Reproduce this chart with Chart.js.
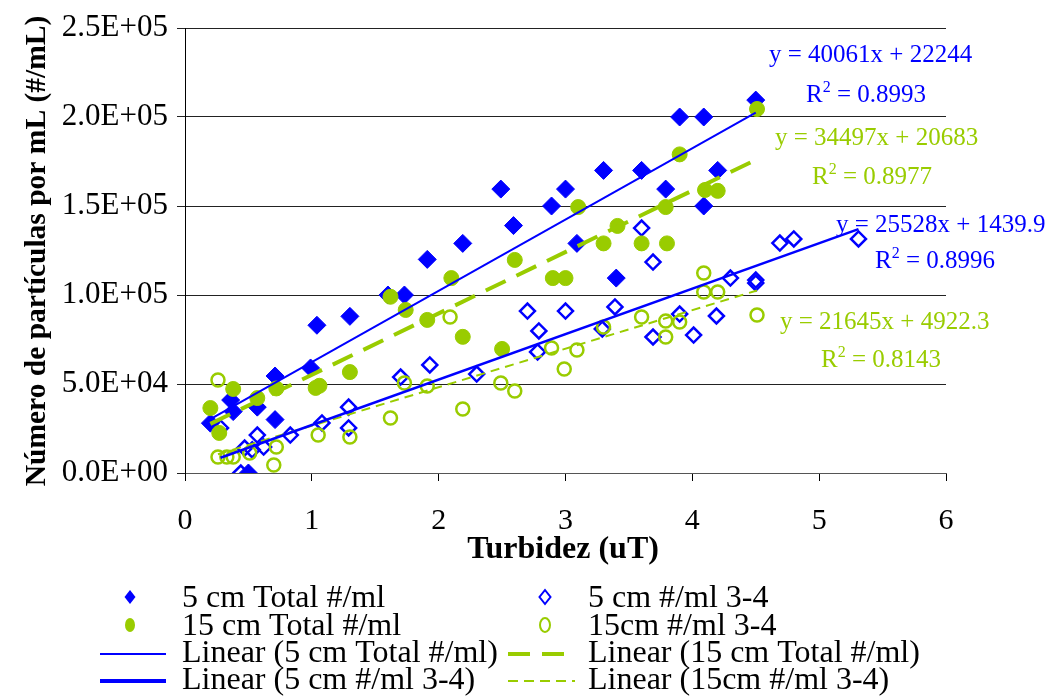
<!DOCTYPE html>
<html>
<head>
<meta charset="utf-8">
<script src="https://cdn.jsdelivr.net/npm/chart.js@4.4.1/dist/chart.umd.min.js"></script>
<style>
  body { margin: 0; background: #fff; }
  #grafico { display: block; }
</style>
</head>
<body>
<canvas id="grafico" width="1045" height="696"></canvas>
<script>
const azul = "#0000FF";
const verde = "#99CC00";
const fonte = '"Liberation Serif", "Times New Roman", serif';

// 5 cm Total #/ml
const x5Total = [0.2, 0.36, 0.38, 0.5, 0.57, 0.71, 0.71, 0.99, 1.04, 1.3, 1.6, 1.73, 1.91, 2.19, 2.49, 2.59, 2.89, 3.0, 3.09, 3.3, 3.4, 3.6, 3.79, 3.9, 4.09, 4.09, 4.2, 4.5];
const y5Total = [28000, 41000, 34500, 0, 37000, 54500, 30000, 59000, 83000, 88000, 100000, 100000, 120000, 129000, 159500, 139000, 150000, 159500, 129000, 170000, 109500, 170000, 159500, 200000, 200000, 150000, 170000, 209500];

// 5 cm #/ml 3-4
const x5Faixa = [0.28, 0.44, 0.47, 0.53, 0.57, 0.62, 0.83, 1.08, 1.29, 1.29, 1.7, 1.93, 2.3, 2.7, 2.78, 2.79, 3.0, 3.29, 3.39, 3.6, 3.69, 3.69, 3.9, 4.01, 4.19, 4.3, 4.5, 4.5, 4.69, 4.8, 5.31];
const y5Faixa = [25300, 0, 14000, 13000, 21300, 14600, 21300, 28100, 25300, 37000, 53900, 60700, 55600, 91000, 68000, 79800, 91000, 80900, 93300, 137600, 118500, 76400, 89300, 77500, 88200, 109500, 108400, 106700, 129200, 131500, 131500];

// 15 cm Total #/ml
const x15Total = [0.27, 0.2, 0.38, 0.57, 0.72, 1.03, 1.06, 1.3, 1.62, 1.74, 1.91, 2.1, 2.19, 2.5, 2.6, 2.9, 3.0, 3.1, 3.3, 3.41, 3.6, 3.79, 3.8, 3.9, 4.1, 4.2, 4.51];
const y15Total = [22500, 36500, 47200, 42100, 47500, 47800, 49000, 56700, 99000, 91600, 86000, 109500, 76500, 69700, 119700, 109500, 109500, 149400, 129000, 138800, 129000, 149400, 129000, 179000, 159000, 158500, 204500];

// 15cm #/ml 3-4
const x15Faixa = [0.26, 0.26, 0.33, 0.38, 0.51, 0.7, 0.72, 1.05, 1.3, 1.62, 1.73, 1.91, 2.09, 2.19, 2.49, 2.6, 2.89, 2.99, 3.09, 3.3, 3.6, 3.79, 3.79, 3.9, 4.09, 4.09, 4.2, 4.51];
const y15Faixa = [52200, 9000, 9000, 9000, 11200, 4500, 14600, 21300, 20200, 30900, 50600, 48900, 87600, 36000, 50600, 46100, 70200, 58400, 69100, 82000, 87600, 85400, 76400, 84800, 112400, 101700, 101700, 88800];

// linhas de tendencia (inclinacao, intercepto) e R2
const tend5Total = [40061, 22244];
const tend15Total = [34497, 20683];
const tend5Faixa = [25528, 1439.9];
const tend15Faixa = [21645, 4922.3];
const r2Valores = ["0.8993", "0.8977", "0.8996", "0.8143"];

const xTickLabels = ["0", "1", "2", "3", "4", "5", "6"];
const yTickLabels = ["0.0E+00", "5.0E+04", "1.0E+05", "1.5E+05", "2.0E+05", "2.5E+05"];

const nomes = ["5 cm Total #/ml", "5 cm #/ml 3-4", "15 cm Total #/ml", "15cm #/ml 3-4"];

function pontos(xs, ys) {
  return xs.map((x, i) => ({ x: x, y: ys[i] }));
}

function tendencia(xs, coef) {
  const a = Math.min(...xs);
  const b = Math.max(...xs);
  return [{ x: a, y: coef[0] * a + coef[1] }, { x: b, y: coef[0] * b + coef[1] }];
}

function linhaTend(label, dados, cor, largura, traco) {
  return {
    type: "line",
    label: label,
    data: dados,
    borderColor: cor,
    borderWidth: largura,
    borderDash: traco,
    pointRadius: 0,
    fill: false,
  };
}

function escreverR2(ctx, x, y, valor, tam, cor) {
  ctx.fillStyle = cor;
  ctx.textAlign = "left";
  ctx.textBaseline = "alphabetic";
  ctx.font = tam + "px " + fonte;
  ctx.fillText("R", x, y);
  let w = ctx.measureText("R").width;
  ctx.font = Math.round(tam * 0.62) + "px " + fonte;
  ctx.fillText("2", x + w, y - tam * 0.42);
  w += ctx.measureText("2").width;
  ctx.font = tam + "px " + fonte;
  ctx.fillText(" = " + valor, x + w, y);
}

const textos = {
  id: "textos",
  afterDraw(chart) {
    const ctx = chart.ctx;
    ctx.save();

    // equacoes
    const eqs = [
      [tend5Total, azul, 769, 62, 806, 102],
      [tend15Total, verde, 775, 145, 812, 184],
      [tend5Faixa, azul, 836, 232, 875, 268],
      [tend15Faixa, verde, 780, 329, 821, 367],
    ];
    eqs.forEach((e, i) => {
      ctx.fillStyle = e[1];
      ctx.font = "25px " + fonte;
      ctx.textAlign = "left";
      ctx.textBaseline = "alphabetic";
      ctx.fillText("y = " + e[0][0] + "x + " + e[0][1], e[2], e[3]);
      escreverR2(ctx, e[4], e[5], r2Valores[i], 25, e[1]);
    });

    // titulos dos eixos
    ctx.fillStyle = "#000";
    ctx.font = "bold 32px " + fonte;
    ctx.textAlign = "center";
    ctx.fillText("Turbidez (uT)", 563, 558);

    ctx.save();
    ctx.translate(45, 251);
    ctx.rotate(-Math.PI / 2);
    ctx.font = "bold 29.5px " + fonte;
    ctx.fillText("Número de partículas por mL (#/mL)", 0, 0);
    ctx.restore();

    // legenda
    const col = [[130, 100, 166, 182], [545, 508, 575, 588]];
    const linhas = [607, 635, 662, 689];
    ctx.textAlign = "left";
    const itens = [
      [0, 0, "diamante", nomes[0]],
      [1, 0, "diamanteVazio", nomes[1]],
      [0, 1, "circulo", nomes[2]],
      [1, 1, "circuloVazio", nomes[3]],
      [0, 2, "linhaFina", "Linear (" + nomes[0] + ")"],
      [1, 2, "tracoGrosso", "Linear (" + nomes[2] + ")"],
      [0, 3, "linhaGrossa", "Linear (" + nomes[1] + ")"],
      [1, 3, "tracoFino", "Linear (" + nomes[3] + ")"],
    ];
    itens.forEach((it) => {
      const c = col[it[0]];
      const base = linhas[it[1]];
      const cy = base - 10;
      ctx.save();
      if (it[2] === "diamante" || it[2] === "diamanteVazio") {
        ctx.beginPath();
        ctx.moveTo(c[0], cy - 7);
        ctx.lineTo(c[0] + 5.5, cy);
        ctx.lineTo(c[0], cy + 7);
        ctx.lineTo(c[0] - 5.5, cy);
        ctx.closePath();
        if (it[2] === "diamante") {
          ctx.fillStyle = azul;
          ctx.fill();
        } else {
          ctx.strokeStyle = azul;
          ctx.lineWidth = 2;
          ctx.stroke();
        }
      } else if (it[2] === "circulo" || it[2] === "circuloVazio") {
        ctx.beginPath();
        ctx.ellipse(c[0], cy, 5, 7, 0, 0, Math.PI * 2);
        if (it[2] === "circulo") {
          ctx.fillStyle = verde;
          ctx.fill();
        } else {
          ctx.strokeStyle = verde;
          ctx.lineWidth = 2;
          ctx.stroke();
        }
      } else {
        const ly = cy + 2;
        ctx.beginPath();
        ctx.moveTo(c[1], ly);
        ctx.lineTo(c[2], ly);
        if (it[2] === "linhaFina") {
          ctx.strokeStyle = azul;
          ctx.lineWidth = 2;
        } else if (it[2] === "linhaGrossa") {
          ctx.strokeStyle = azul;
          ctx.lineWidth = 4;
        } else if (it[2] === "tracoGrosso") {
          ctx.strokeStyle = verde;
          ctx.lineWidth = 4;
          ctx.setLineDash([22, 12]);
        } else {
          ctx.strokeStyle = verde;
          ctx.lineWidth = 2;
          ctx.setLineDash([10, 6]);
        }
        ctx.stroke();
      }
      ctx.restore();
      ctx.fillStyle = "#000";
      ctx.font = "32px " + fonte;
      ctx.fillText(it[3], c[3], base);
    });

    ctx.restore();
  },
};

Chart.defaults.font.family = fonte;
Chart.defaults.color = "#000";

new Chart(document.getElementById("grafico"), {
  type: "scatter",
  data: {
    datasets: [
      linhaTend("Linear (5 cm Total #/ml)", tendencia(x5Total, tend5Total), azul, 2, []),
      linhaTend("Linear (15 cm Total #/ml)", tendencia(x15Total, tend15Total), verde, 4, [22, 12]),
      linhaTend("Linear (5 cm #/ml 3-4)", tendencia(x5Faixa, tend5Faixa), azul, 2.5, []),
      linhaTend("Linear (15cm #/ml 3-4)", tendencia(x15Faixa, tend15Faixa), verde, 2, [9, 6]),
      {
        label: nomes[3],
        data: pontos(x15Faixa, y15Faixa),
        pointStyle: "circle",
        pointRadius: 6.5,
        backgroundColor: "rgba(0,0,0,0)",
        borderColor: verde,
        borderWidth: 2.5,
      },
      {
        label: nomes[2],
        data: pontos(x15Total, y15Total),
        pointStyle: "circle",
        pointRadius: 7.5,
        backgroundColor: verde,
        borderColor: verde,
        borderWidth: 1,
      },
      {
        label: nomes[1],
        data: pontos(x5Faixa, y5Faixa),
        pointStyle: "rectRot",
        pointRadius: 7.5,
        backgroundColor: "rgba(0,0,0,0)",
        borderColor: azul,
        borderWidth: 2.5,
      },
      {
        label: nomes[0],
        data: pontos(x5Total, y5Total),
        pointStyle: "rectRot",
        pointRadius: 9,
        backgroundColor: azul,
        borderColor: azul,
        borderWidth: 1,
      },
    ],
  },
  options: {
    responsive: false,
    animation: false,
    devicePixelRatio: 1,
    layout: { padding: { left: 0, top: 28, right: 99, bottom: 0 } },
    plugins: {
      legend: { display: false },
      tooltip: { enabled: false },
    },
    scales: {
      x: {
        type: "linear",
        min: 0,
        max: 6,
        ticks: {
          stepSize: 1,
          padding: 22,
          font: { size: 30 },
          callback: (v, i) => xTickLabels[i],
        },
        grid: { drawOnChartArea: false, drawTicks: true, tickLength: 8, color: "#000" },
        border: { color: "#555", width: 1 },
        afterFit: (s) => { s.height = 223; },
      },
      y: {
        min: 0,
        max: 250000,
        ticks: {
          stepSize: 50000,
          padding: 9,
          font: { size: 31 },
          callback: (v, i) => yTickLabels[i],
        },
        grid: { color: "#222", tickLength: 8 },
        border: { color: "#000", width: 1 },
        afterFit: (s) => { s.width = 185; },
      },
    },
  },
  plugins: [textos],
});
</script>
</body>
</html>
